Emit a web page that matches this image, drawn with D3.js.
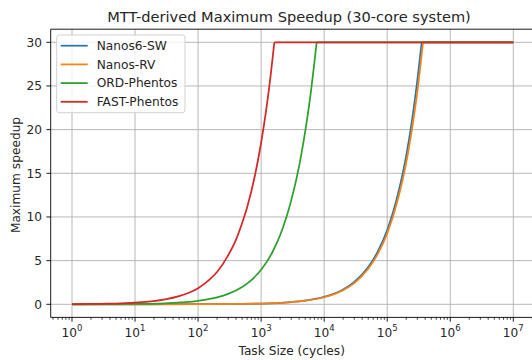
<!DOCTYPE html>
<html>
<head>
<meta charset="utf-8">
<script src="https://cdn.jsdelivr.net/npm/d3@7"></script>
<style>
  body { margin: 0; background: #fff; }
  svg { display: block; font-family: "DejaVu Sans", sans-serif; }
</style>
</head>
<body>
<div id="chart"></div>
<script>
// Series names and colours (matplotlib tab10)
const seriesNames = ['Nanos6-SW', 'Nanos-RV', 'ORD-Phentos', 'FAST-Phentos'];
const seriesColors = ['#1f77b4', '#ff7f0e', '#2ca02c', '#d62728'];

// Values (task size in cycles -> speedup)
const nanosSwX = [1, 10, 100, 1000, 3000, 5000, 10000, 20000, 30000, 50000, 70000, 100000, 150000, 200000, 250000, 300000, 352000, 1e7];
const nanosSwY = [0.0001, 0.0009, 0.0085, 0.085, 0.26, 0.43, 0.85, 1.7, 2.56, 4.26, 5.97, 8.5, 12.8, 17.0, 21.3, 25.6, 30, 30];

const nanosRvX = [1, 10, 100, 1000, 3000, 5000, 10000, 20000, 30000, 50000, 70000, 100000, 150000, 200000, 250000, 300000, 370000, 1e7];
const nanosRvY = [0.0001, 0.0008, 0.0081, 0.081, 0.24, 0.41, 0.81, 1.62, 2.43, 4.06, 5.68, 8.1, 12.2, 16.2, 20.3, 24.3, 30, 30];

const ordX = [1, 10, 30, 100, 200, 300, 500, 700, 1000, 1500, 2000, 2500, 3000, 4000, 5000, 6000, 7000, 7600, 1e7];
const ordY = [0.004, 0.04, 0.12, 0.4, 0.79, 1.19, 1.98, 2.77, 3.95, 5.93, 7.9, 9.9, 11.9, 15.8, 19.8, 23.7, 27.7, 30, 30];

const fastX = [1, 2, 3, 5, 7, 10, 15, 20, 30, 50, 70, 100, 150, 200, 300, 400, 500, 600, 800, 1000, 1200, 1400, 1620, 1e7];
const fastY = [0.02, 0.04, 0.06, 0.09, 0.13, 0.19, 0.28, 0.37, 0.56, 0.93, 1.3, 1.85, 2.8, 3.7, 5.6, 7.4, 9.3, 11.1, 14.8, 18.5, 22.2, 25.9, 30, 30];

const seriesX = [nanosSwX, nanosRvX, ordX, fastX];
const seriesY = [nanosSwY, nanosRvY, ordY, fastY];

const yTicks = [0, 5, 10, 15, 20, 25, 30];
const xMajorExps = [0, 1, 2, 3, 4, 5, 6, 7];

const width = 532, height = 360;
const fontSize = 12.2;

const svg = d3.select('#chart').append('svg')
    .attr('width', width)
    .attr('height', height);

// Scales: ticks placed as in the reference
const x = d3.scaleLog().domain([1, 1e7]).range([72, 513.3]);
const y = d3.scaleLinear().domain([0, 30]).range([304.3, 42.3]);

// Axes box (matplotlib margins)
const plotLeft = x(Math.pow(10, -0.338));
const plotRight = x(Math.pow(10, 7.35));
const plotTop = y(31.5);
const plotBottom = y(-1.5);

svg.append('defs').append('clipPath').attr('id', 'clip')
    .append('rect')
    .attr('x', plotLeft).attr('y', plotTop)
    .attr('width', plotRight - plotLeft).attr('height', plotBottom - plotTop);

// Grid
const grid = svg.append('g');
grid.selectAll('line.gx')
    .data(xMajorExps)
    .join('line')
    .attr('x1', d => x(Math.pow(10, d))).attr('x2', d => x(Math.pow(10, d)))
    .attr('y1', plotTop).attr('y2', plotBottom)
    .attr('stroke', '#b0b0b0').attr('stroke-width', 0.9);
grid.selectAll('line.gy')
    .data(yTicks)
    .join('line')
    .attr('x1', plotLeft).attr('x2', plotRight)
    .attr('y1', d => y(d)).attr('y2', d => y(d))
    .attr('stroke', '#b0b0b0').attr('stroke-width', 0.9);

// Lines
const rising = d3.line()
    .x(d => x(d[0]))
    .y(d => y(d[1]))
    .curve(d3.curveMonotoneX);
const flat = d3.line()
    .x(d => x(d[0]))
    .y(d => y(d[1]));

const lines = svg.append('g').attr('clip-path', 'url(#clip)');
seriesNames.forEach((name, i) => {
    const pts = seriesX[i].map((v, j) => [v, seriesY[i][j]]);
    const cut = seriesY[i].indexOf(30);
    lines.append('path')
        .attr('d', rising(pts.slice(0, cut + 1)))
        .attr('fill', 'none')
        .attr('stroke', seriesColors[i])
        .attr('stroke-width', 1.75)
        .attr('stroke-linejoin', 'round');
    lines.append('path')
        .attr('d', flat(pts.slice(cut)))
        .attr('fill', 'none')
        .attr('stroke', seriesColors[i])
        .attr('stroke-width', 1.75);
});

// Spines
const spines = [
    [plotLeft, plotTop, plotLeft, plotBottom],
    [plotLeft, plotBottom, plotRight, plotBottom],
    [plotLeft, plotTop, plotRight, plotTop],
    [plotRight, plotTop, plotRight, plotBottom]
];
svg.append('g').selectAll('line')
    .data(spines)
    .join('line')
    .attr('x1', d => d[0]).attr('y1', d => d[1])
    .attr('x2', d => d[2]).attr('y2', d => d[3])
    .attr('stroke', '#000').attr('stroke-width', 0.9);

// X minor ticks
const minor = [];
for (let e = -1; e <= 7; e++) {
    for (let m = 2; m <= 9; m++) {
        const v = m * Math.pow(10, e);
        const px = x(v);
        if (px >= plotLeft && px <= plotRight) minor.push(v);
    }
}
svg.append('g').selectAll('line')
    .data(minor)
    .join('line')
    .attr('x1', d => x(d)).attr('x2', d => x(d))
    .attr('y1', plotBottom).attr('y2', plotBottom + 2.4)
    .attr('stroke', '#000').attr('stroke-width', 0.7);

// X major ticks and labels
const xt = svg.append('g').selectAll('g')
    .data(xMajorExps)
    .join('g')
    .attr('transform', d => `translate(${x(Math.pow(10, d))},${plotBottom})`);
xt.append('line').attr('y2', 4.3).attr('stroke', '#000').attr('stroke-width', 0.9);
const xl = xt.append('text')
    .attr('y', 19.3)
    .attr('text-anchor', 'middle')
    .attr('font-size', fontSize)
    .attr('fill', '#262626');
xl.append('tspan').text('10');
xl.append('tspan').attr('font-size', fontSize * 0.7).attr('dy', -5.3).text(d => d);

// Y ticks and labels
const yt = svg.append('g').selectAll('g')
    .data(yTicks)
    .join('g')
    .attr('transform', d => `translate(${plotLeft},${y(d)})`);
yt.append('line').attr('x2', -4.3).attr('stroke', '#000').attr('stroke-width', 0.9);
yt.append('text')
    .attr('x', -8.6)
    .attr('dy', '0.35em')
    .attr('text-anchor', 'end')
    .attr('font-size', fontSize)
    .attr('fill', '#262626')
    .text(d => d);

// Axis labels and title
svg.append('text')
    .attr('x', 291.7).attr('y', 355)
    .attr('text-anchor', 'middle')
    .attr('font-size', fontSize)
    .attr('fill', '#262626')
    .text('Task Size (cycles)');
svg.append('text')
    .attr('transform', 'translate(19.5,175) rotate(-90)')
    .attr('text-anchor', 'middle')
    .attr('font-size', fontSize)
    .attr('fill', '#262626')
    .text('Maximum speedup');
svg.append('text')
    .attr('x', 289).attr('y', 22.3)
    .attr('text-anchor', 'middle')
    .attr('font-size', 14.6)
    .attr('fill', '#262626')
    .text('MTT-derived Maximum Speedup (30-core system)');

// Legend
const legend = svg.append('g');
legend.append('rect')
    .attr('x', 56.7).attr('y', 35)
    .attr('width', 128.3).attr('height', 77.7)
    .attr('rx', 2.5)
    .attr('fill', 'rgba(255,255,255,0.8)')
    .attr('stroke', '#cccccc')
    .attr('stroke-width', 0.9);
const items = legend.selectAll('g.item')
    .data(seriesNames)
    .join('g')
    .attr('transform', (d, i) => `translate(0,${45.7 + i * 18.7})`);
items.append('line')
    .attr('x1', 60.7).attr('x2', 87.7)
    .attr('stroke', (d, i) => seriesColors[i])
    .attr('stroke-width', 1.75);
items.append('text')
    .attr('x', 96.7)
    .attr('dy', '0.35em')
    .attr('font-size', fontSize)
    .attr('fill', '#262626')
    .text(d => d);
</script>
</body>
</html>
